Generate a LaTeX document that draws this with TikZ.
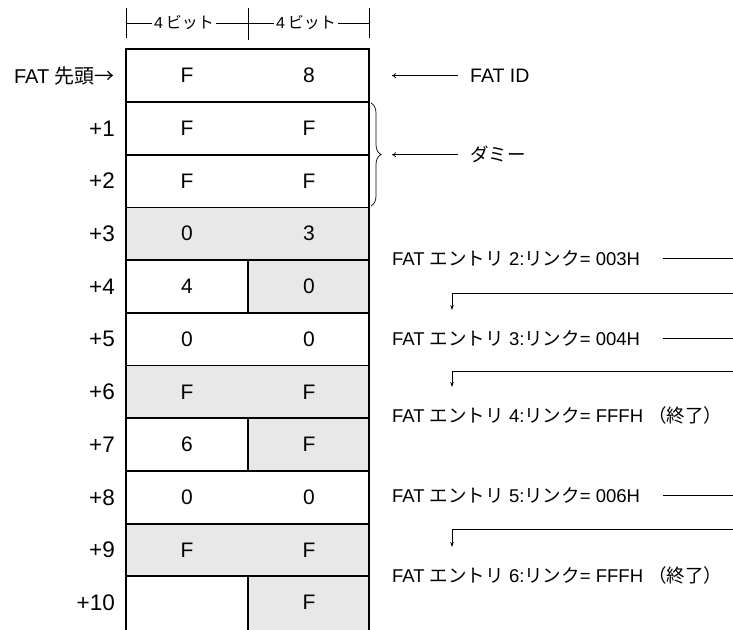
\documentclass[tikz,border=0pt]{standalone}
\usepackage{fontspec}
\setmainfont{Liberation Sans}
\newfontfamily\jpfont{Noto Sans CJK JP}
\newcommand\jtxt[1]{{\jpfont #1}}
\usetikzlibrary{decorations.pathreplacing,arrows.meta}
\begin{document}
\begin{tikzpicture}[x=1pt,y=-1pt,
  tbl/.style={line width=1.8pt},
  shd/.style={fill=black!9},
  val/.style={font=\fontsize{21}{23}\selectfont, inner sep=0pt},
  off/.style={font=\fontsize{22.5}{24}\selectfont, anchor=east, inner sep=0pt},
  ent/.style={font=\fontsize{18.5}{21}\selectfont, anchor=west, inner sep=0pt},
  hdr/.style={font=\fontsize{16}{18}\selectfont, fill=white, inner xsep=2pt, inner ysep=1pt},
  thin/.style={line width=0.7pt},
  link/.style={line width=0.7pt, -{Stealth[length=5pt,width=3.5pt]}},
  note/.style={line width=0.7pt, -{To[length=4pt,width=5pt]}}
]
\fill[white] (0,0) rectangle (733,629);
\useasboundingbox (0,0) rectangle (733,629);

% header
\draw[thin] (126,8) -- (126,38);
\draw[thin] (248,8) -- (248,40);
\draw[thin] (369,8) -- (369,38);
\draw[thin] (126,23) -- (369,23);
\node[hdr] (h1) at (184,23) {4\,\jtxt{ビット}};
\node[hdr] (h2) at (306,23) {4\,\jtxt{ビット}};

% shading
\fill[shd] (126,207.4) rectangle (369,260.1);
\fill[shd] (248,260.1) rectangle (369,312.8);
\fill[shd] (126,365.5) rectangle (369,418.2);
\fill[shd] (248,418.2) rectangle (369,470.9);
\fill[shd] (126,523.6) rectangle (369,576.3);
\fill[shd] (248,576.3) rectangle (369,634);

% table lines
\draw[tbl] (126,634) -- (126,49.3) -- (369,49.3) -- (369,634);
\foreach \yy in {102.0,154.7,207.4,260.1,312.8,365.5,418.2,470.9,523.6,576.3}
  \draw[tbl] (126,\yy) -- (369,\yy);
\draw[tbl] (248,260.1) -- (248,312.8);
\draw[tbl] (248,418.2) -- (248,470.9);
\draw[tbl] (248,576.3) -- (248,634);

% offsets
\node[font=\fontsize{20}{22}\selectfont, anchor=east, inner sep=0pt] (o0) at (115,75.65) {FAT \jtxt{先頭→}};
\node[off] (o1) at (115,128.35) {+1};
\node[off] (o2) at (115,181.05) {+2};
\node[off] (o3) at (115,233.75) {+3};
\node[off] (o4) at (115,286.45) {+4};
\node[off] (o5) at (115,339.15) {+5};
\node[off] (o6) at (115,391.85) {+6};
\node[off] (o7) at (115,444.55) {+7};
\node[off] (o8) at (115,497.25) {+8};
\node[off] (o9) at (115,549.95) {+9};
\node[off] (o10) at (115,602.65) {+10};

% values
\node[val] (v0l) at (187,75.65) {F};  \node[val] (v0r) at (309,75.65) {8};
\node[val] (v1l) at (187,128.35) {F}; \node[val] (v1r) at (309,128.35) {F};
\node[val] (v2l) at (187,181.05) {F}; \node[val] (v2r) at (309,181.05) {F};
\node[val] (v3l) at (187,233.75) {0}; \node[val] (v3r) at (309,233.75) {3};
\node[val] (v4l) at (187,286.45) {4}; \node[val] (v4r) at (309,286.45) {0};
\node[val] (v5l) at (187,339.15) {0}; \node[val] (v5r) at (309,339.15) {0};
\node[val] (v6l) at (187,391.85) {F}; \node[val] (v6r) at (309,391.85) {F};
\node[val] (v7l) at (187,444.55) {6}; \node[val] (v7r) at (309,444.55) {F};
\node[val] (v8l) at (187,497.25) {0}; \node[val] (v8r) at (309,497.25) {0};
\node[val] (v9l) at (187,549.95) {F}; \node[val] (v9r) at (309,549.95) {F};
\node[val] (v10r) at (309,602.65) {F};

% notes
\node[ent, font=\fontsize{19.5}{21}\selectfont] (fid) at (470,75.65) {FAT ID};
\coordinate (fidtail) at (458,75.65);
\coordinate (fidhead) at (392,75.65);
\draw[note] (fidtail) -- (fidhead);
\draw[thin, decorate, decoration={brace, amplitude=10pt}] (371,103) -- (371,206);
\node[ent] (dmy) at (470,154.7) {\jtxt{ダミー}};
\coordinate (dmytail) at (458,154.7);
\coordinate (dmyhead) at (392,154.7);
\draw[note] (dmytail) -- (dmyhead);

% entries
\node[ent] (e2) at (392,258) {FAT \jtxt{エントリ} 2:\jtxt{リンク}= 003H};
\node[ent] (e3) at (392,338) {FAT \jtxt{エントリ} 3:\jtxt{リンク}= 004H};
\node[ent] (e4) at (392,415) {FAT \jtxt{エントリ} 4:\jtxt{リンク}= FFFH \jtxt{（終了）}};
\node[ent] (e5) at (392,495) {FAT \jtxt{エントリ} 5:\jtxt{リンク}= 006H};
\node[ent] (e6) at (392,575) {FAT \jtxt{エントリ} 6:\jtxt{リンク}= FFFH \jtxt{（終了）}};

% links
\coordinate (s2) at (663,258);   \coordinate (t2) at (733.1,258);
\coordinate (k2) at (452,293);   \coordinate (a2) at (452,310);
\coordinate (s3) at (663,338);   \coordinate (t3) at (733.1,338);
\coordinate (k3) at (452,371);   \coordinate (a3) at (452,387);
\coordinate (s5) at (663,495);   \coordinate (t5) at (733.1,495);
\coordinate (k5) at (452,529);   \coordinate (a5) at (452,547);
\draw[link] (s2) -- (t2) |- (k2) -- (a2);
\draw[link] (s3) -- (t3) |- (k3) -- (a3);
\draw[link] (s5) -- (t5) |- (k5) -- (a5);
\end{tikzpicture}
\end{document}
